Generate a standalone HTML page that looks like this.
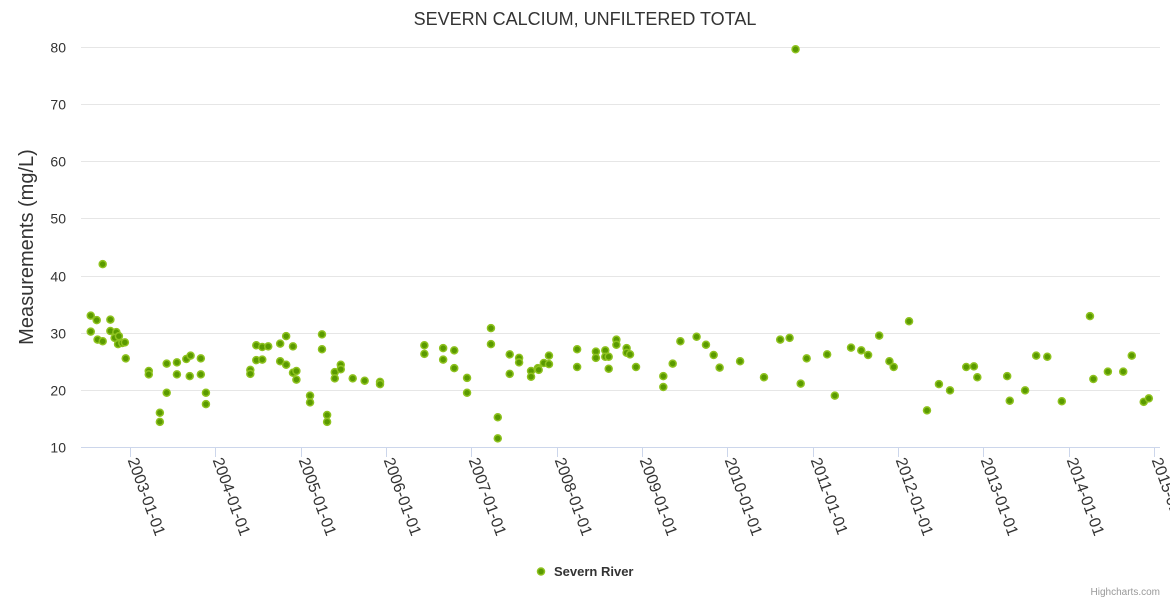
<!DOCTYPE html>
<html><head><meta charset="utf-8"><style>
html,body{margin:0;padding:0;background:#fff;width:1170px;height:600px;overflow:hidden}
svg{font-family:"Liberation Sans",sans-serif}
</style></head><body>
<svg id="chart" width="1170" height="600" xmlns="http://www.w3.org/2000/svg">
<text x="585" y="25" text-anchor="middle" font-size="18" fill="#333">SEVERN CALCIUM, UNFILTERED TOTAL</text>
<g id="grid"></g>
<g id="ylabels"></g>
<text transform="translate(33,247) rotate(-90)" text-anchor="middle" font-size="20" fill="#333">Measurements (mg/L)</text>
<line x1="81" y1="447.5" x2="1160" y2="447.5" stroke="#ccd6eb" stroke-width="1"/>
<g id="xlabels"></g>
<g id="points"></g>
<g>
<circle cx="541" cy="571.5" r="3.5" fill="#5a9a00" stroke="#8ec21f" stroke-width="1.5"/>
<text x="554" y="576" font-size="13" font-weight="bold" fill="#333">Severn River</text>
</g>
<text x="1160" y="595" text-anchor="end" font-size="10" fill="#999">Highcharts.com</text>
</svg>
<script>
const yTicks = [10,20,30,40,50,60,70,80];
const xTickYears = [2003,2004,2005,2006,2007,2008,2009,2010,2011,2012,2013,2014,2015];
const xTickLabels = ["2003-01-01","2004-01-01","2005-01-01","2006-01-01","2007-01-01","2008-01-01","2009-01-01","2010-01-01","2011-01-01","2012-01-01","2013-01-01","2014-01-01","2015-01-01"];
const dates = [2002.54,2002.54,2002.61,2002.62,2002.68,2002.68,2002.77,2002.77,2002.84,2002.82,2002.87,2002.86,2002.91,2002.94,2002.95,
2003.22,2003.22,2003.35,2003.35,2003.43,2003.43,2003.55,2003.55,2003.66,2003.71,2003.70,2003.83,2003.83,2003.89,2003.89,
2004.41,2004.41,2004.48,2004.48,2004.55,2004.55,2004.62,2004.76,2004.76,2004.83,2004.83,2004.91,2004.91,2004.95,2004.95,
2005.11,2005.11,2005.25,2005.25,2005.31,2005.31,2005.40,2005.40,2005.47,2005.47,2005.61,2005.75,2005.93,2005.93,
2006.45,2006.45,2006.67,2006.67,2006.80,2006.80,2006.95,2006.95,
2007.23,2007.23,2007.31,2007.31,2007.45,2007.45,2007.56,2007.56,2007.70,2007.70,2007.78,2007.79,2007.85,2007.91,2007.91,
2008.24,2008.24,2008.46,2008.46,2008.57,2008.57,2008.61,2008.61,2008.70,2008.70,2008.82,2008.82,2008.86,2008.93,
2009.25,2009.25,2009.36,2009.45,2009.64,2009.75,2009.84,2009.91,
2010.15,2010.43,2010.62,2010.73,2010.86,2010.93,2010.80,
2011.17,2011.26,2011.45,2011.57,2011.65,2011.78,2011.90,2011.95,
2012.13,2012.34,2012.48,2012.61,2012.80,2012.89,2012.93,
2013.28,2013.31,2013.49,2013.62,2013.75,2013.92,
2014.25,2014.29,2014.46,2014.64,2014.74,2014.88,2014.94];
const values = [33,30.2,32.2,28.8,42,28.5,32.3,30.3,30.1,29.1,29.4,28.0,28.2,28.3,25.5,
23.3,22.7,16,14.4,24.6,19.5,24.8,22.7,25.4,26.0,22.4,25.5,22.7,19.5,17.5,
23.5,22.8,27.8,25.2,27.5,25.3,27.6,28.1,25,29.4,24.4,27.6,23,23.3,21.8,
19.0,17.8,29.7,27.1,15.6,14.4,23.1,22,24.4,23.6,22,21.6,21.4,21,
27.8,26.3,27.3,25.3,26.9,23.8,22.1,19.5,
30.8,28.0,15.2,11.5,26.2,22.8,25.6,24.8,23.3,22.3,23.8,23.5,24.7,26.0,24.5,
27.1,24.0,26.7,25.6,26.9,25.8,25.8,23.7,28.8,27.9,27.3,26.5,26.2,24.0,
22.4,20.5,24.6,28.5,29.3,27.9,26.1,23.9,
25.0,22.2,28.8,29.1,21.1,25.5,79.6,
26.2,19.0,27.4,26.9,26.1,29.5,25.0,24.0,
32.0,16.4,21.0,19.9,24.0,24.1,22.2,
22.4,18.1,19.9,26.0,25.8,18.0,
32.9,21.9,23.2,23.2,26.0,17.9,18.5];

const NS="http://www.w3.org/2000/svg";
const yScale = v => 447 - (v-10)*(400/70);
const xScale = yr => 130 + (yr-2003)*85.33;
const grid=document.getElementById('grid'), yl=document.getElementById('ylabels'), xl=document.getElementById('xlabels'), pts=document.getElementById('points');
yTicks.forEach(t=>{
  const y=Math.round(yScale(t))+0.5;
  if(t!==10){const l=document.createElementNS(NS,'line');
  l.setAttribute('x1',81);l.setAttribute('x2',1160);l.setAttribute('y1',y);l.setAttribute('y2',y);
  l.setAttribute('stroke','#e6e6e6');
  
  
  grid.appendChild(l);}
  const tx=document.createElementNS(NS,'text');
  tx.setAttribute('x',66);tx.setAttribute('y',y+5);tx.setAttribute('text-anchor','end');
  tx.setAttribute('font-size','14');tx.setAttribute('fill','#333');tx.textContent=t;
  
  
  yl.appendChild(tx);
});
xTickYears.forEach((yr,i)=>{
  const x=Math.round(xScale(yr))+0.5;
  const l=document.createElementNS(NS,'line');
  l.setAttribute('x1',x);l.setAttribute('x2',x);l.setAttribute('y1',447);l.setAttribute('y2',457);
  l.setAttribute('stroke','#ccd6eb');
  
  
  xl.appendChild(l);
  const tx=document.createElementNS(NS,'text');
  tx.setAttribute('transform',`translate(${x-3},460) rotate(70)`);
  tx.setAttribute('font-size','16');tx.setAttribute('fill','#333');tx.textContent=xTickLabels[i];
  
  
  xl.appendChild(tx);
});
dates.forEach((d,i)=>{
  const c=document.createElementNS(NS,'circle');
  c.setAttribute('cx',xScale(d));c.setAttribute('cy',yScale(values[i]));c.setAttribute('r',3.5);
  c.setAttribute('fill','#5a9a00');c.setAttribute('stroke','#8ec21f');c.setAttribute('stroke-width','1.5');
  
  
  pts.appendChild(c);
});
</script>
</body></html>
